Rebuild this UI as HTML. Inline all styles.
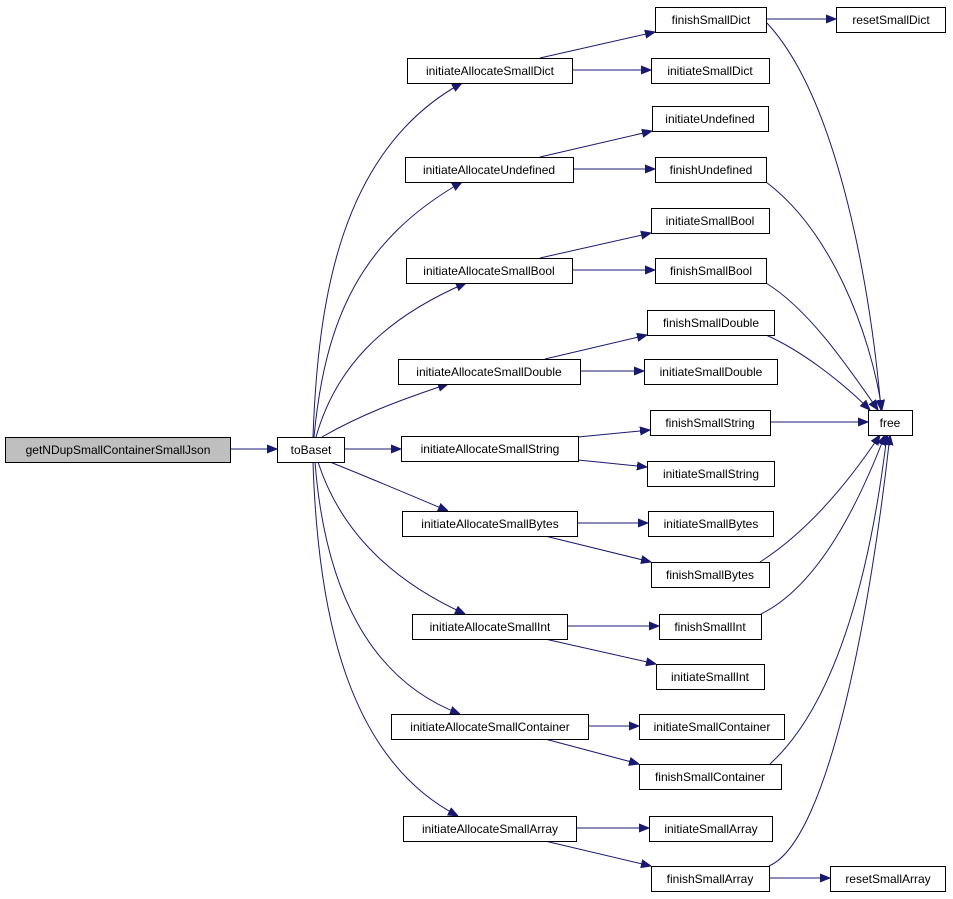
<!DOCTYPE html>
<html><head><meta charset="utf-8"><style>
html,body{margin:0;padding:0;background:#fff;}
svg{display:block;}
text{font-family:"Liberation Sans",Arial,sans-serif;font-size:12px;fill:#000;}
.n{fill:#fff;stroke:#000;stroke-width:1;}
.e{fill:none;stroke:#191970;stroke-width:1;}
</style></head><body>
<svg width="953" height="899" viewBox="0 0 953 899" xmlns="http://www.w3.org/2000/svg">
<defs><marker id="a" viewBox="0 0 10 10" refX="10" refY="5" markerWidth="10" markerHeight="10" markerUnits="userSpaceOnUse" orient="auto"><path d="M0,1 L10,5 L0,9 z" fill="#191970" stroke="#191970"/></marker></defs>
<g marker-end="url(#a)">
<path class="e" d="M230,449 L277,449"/>
<path class="e" d="M313,437 C318,300 340,150 462,83"/>
<path class="e" d="M314,437 C325,320 360,240 462,182"/>
<path class="e" d="M316,437 C335,370 380,320 466,283"/>
<path class="e" d="M322,437 C360,415 400,400 448,384"/>
<path class="e" d="M344,449 L401,449"/>
<path class="e" d="M330,462 C370,478 410,495 448,511"/>
<path class="e" d="M318,462 C340,530 390,580 465,614"/>
<path class="e" d="M315,462 C325,590 370,680 460,714"/>
<path class="e" d="M313,462 C318,620 350,760 458,816"/>
<path class="e" d="M540,58 L655,32"/>
<path class="e" d="M572,70 L651,70"/>
<path class="e" d="M540,157 L652,131"/>
<path class="e" d="M573,169 L655,169"/>
<path class="e" d="M540,258 L651,233"/>
<path class="e" d="M572,270 L655,270"/>
<path class="e" d="M545,359 L647,335"/>
<path class="e" d="M580,371 L644,371"/>
<path class="e" d="M578,437 L650,430"/>
<path class="e" d="M578,460 L647,467"/>
<path class="e" d="M577,523 L648,523"/>
<path class="e" d="M545,536 L651,562"/>
<path class="e" d="M567,626 L659,626"/>
<path class="e" d="M545,639 L656,664"/>
<path class="e" d="M588,726 L639,726"/>
<path class="e" d="M545,739 L639,764"/>
<path class="e" d="M576,828 L649,828"/>
<path class="e" d="M545,841 L651,866"/>
<path class="e" d="M766,19 L836,19"/>
<path class="e" d="M769,878 L830,878"/>
<path class="e" d="M766,22 C840,100 872,300 881,410"/>
<path class="e" d="M766,182 C830,230 870,330 882,410"/>
<path class="e" d="M766,283 C810,310 850,370 878,410"/>
<path class="e" d="M766,335 C800,350 840,380 870,410"/>
<path class="e" d="M770,422 L868,422"/>
<path class="e" d="M760,562 C810,530 850,480 880,435"/>
<path class="e" d="M761,614 C820,585 860,500 885,435"/>
<path class="e" d="M770,764 C840,700 872,560 887,435"/>
<path class="e" d="M769,866 C830,840 872,600 890,435"/>
</g>
<rect x="5.5" y="437.5" width="225" height="25" fill="#bfbfbf" stroke="#000"/>
<text x="118" y="454" text-anchor="middle">getNDupSmallContainerSmallJson</text>
<g text-anchor="middle">
<rect class="n" x="277.5" y="437.5" width="67" height="25"/><text x="311" y="454">toBaset</text>
<rect class="n" x="407.5" y="58.5" width="165" height="25"/><text x="490" y="75">initiateAllocateSmallDict</text>
<rect class="n" x="405.5" y="157.5" width="168" height="25"/><text x="489" y="174">initiateAllocateUndefined</text>
<rect class="n" x="406.5" y="258.5" width="166" height="25"/><text x="489" y="275">initiateAllocateSmallBool</text>
<rect class="n" x="398.5" y="359.5" width="182" height="25"/><text x="489" y="376">initiateAllocateSmallDouble</text>
<rect class="n" x="401.5" y="436.5" width="177" height="25"/><text x="490" y="453">initiateAllocateSmallString</text>
<rect class="n" x="402.5" y="511.5" width="175" height="25"/><text x="490" y="528">initiateAllocateSmallBytes</text>
<rect class="n" x="412.5" y="614.5" width="155" height="25"/><text x="490" y="631">initiateAllocateSmallInt</text>
<rect class="n" x="391.5" y="714.5" width="197" height="25"/><text x="490" y="731">initiateAllocateSmallContainer</text>
<rect class="n" x="403.5" y="816.5" width="173" height="25"/><text x="490" y="833">initiateAllocateSmallArray</text>
<rect class="n" x="655.5" y="7.5" width="111" height="25"/><text x="711" y="24">finishSmallDict</text>
<rect class="n" x="836.5" y="7.5" width="109" height="25"/><text x="891" y="24">resetSmallDict</text>
<rect class="n" x="651.5" y="58.5" width="118" height="25"/><text x="710" y="75">initiateSmallDict</text>
<rect class="n" x="652.5" y="106.5" width="116" height="25"/><text x="710" y="123">initiateUndefined</text>
<rect class="n" x="655.5" y="157.5" width="111" height="25"/><text x="711" y="174">finishUndefined</text>
<rect class="n" x="651.5" y="208.5" width="118" height="25"/><text x="710" y="225">initiateSmallBool</text>
<rect class="n" x="655.5" y="258.5" width="111" height="25"/><text x="711" y="275">finishSmallBool</text>
<rect class="n" x="647.5" y="310.5" width="127" height="25"/><text x="711" y="327">finishSmallDouble</text>
<rect class="n" x="644.5" y="359.5" width="133" height="25"/><text x="711" y="376">initiateSmallDouble</text>
<rect class="n" x="650.5" y="410.5" width="120" height="25"/><text x="710" y="427">finishSmallString</text>
<rect class="n" x="647.5" y="461.5" width="127" height="25"/><text x="711" y="478">initiateSmallString</text>
<rect class="n" x="648.5" y="511.5" width="125" height="25"/><text x="711" y="528">initiateSmallBytes</text>
<rect class="n" x="651.5" y="562.5" width="118" height="25"/><text x="710" y="579">finishSmallBytes</text>
<rect class="n" x="659.5" y="614.5" width="102" height="25"/><text x="710" y="631">finishSmallInt</text>
<rect class="n" x="656.5" y="664.5" width="108" height="25"/><text x="710" y="681">initiateSmallInt</text>
<rect class="n" x="639.5" y="714.5" width="145" height="25"/><text x="712" y="731">initiateSmallContainer</text>
<rect class="n" x="639.5" y="764.5" width="142" height="25"/><text x="710" y="781">finishSmallContainer</text>
<rect class="n" x="649.5" y="816.5" width="123" height="25"/><text x="711" y="833">initiateSmallArray</text>
<rect class="n" x="651.5" y="866.5" width="118" height="25"/><text x="710" y="883">finishSmallArray</text>
<rect class="n" x="830.5" y="866.5" width="115" height="25"/><text x="888" y="883">resetSmallArray</text>
<rect class="n" x="868.5" y="410.5" width="44" height="25"/><text x="890" y="427">free</text>
</g>
</svg>
</body></html>
